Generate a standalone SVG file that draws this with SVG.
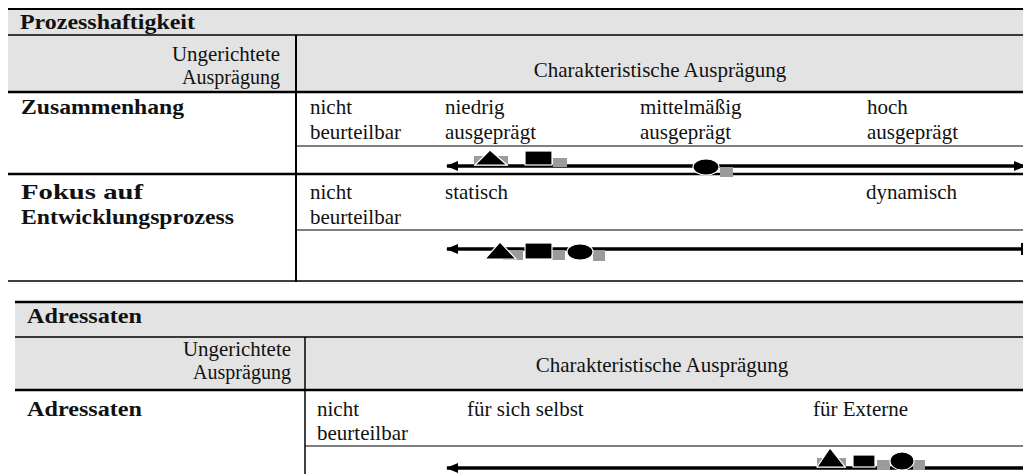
<svg xmlns="http://www.w3.org/2000/svg" width="1023" height="474" viewBox="0 0 1023 474">
<style>
text{font-family:'Liberation Serif','Tinos','DejaVu Serif',serif;font-size:21px;fill:#111}
.b{font-weight:bold}
.h{font-size:20px}
.bg{fill:#e3e3e3}
.ln{stroke:#000;fill:none}
.ax{stroke:#000;stroke-width:3.5;fill:none}
.gr{fill:#9b9b9b}
.sh{fill:#000;stroke:#fff;stroke-width:1.2}
</style>
<defs>
<marker id="ah" viewBox="0 0 12 10" refX="11" refY="5" markerWidth="12" markerHeight="10" markerUnits="userSpaceOnUse" orient="auto-start-reverse">
<path d="M0,0 L12,5 L0,10 Z" fill="#000"/>
</marker>
</defs>
<rect width="1023" height="474" fill="#fff"/>

<g id="table1">
<rect class="bg" x="8" y="8" width="1020" height="84"/>
<line class="ln" x1="8" y1="9" x2="1023" y2="9" stroke-width="2"/>
<line class="ln" x1="8" y1="35" x2="1023" y2="35" stroke-width="1.5"/>
<line class="ln" x1="8" y1="92" x2="1023" y2="92" stroke-width="2.5"/>
<line class="ln" x1="296" y1="35" x2="296" y2="282" stroke-width="2"/>
<line class="ln" x1="296" y1="146" x2="1023" y2="146" stroke-width="1.2"/>
<line class="ln" x1="8" y1="174" x2="1023" y2="174" stroke-width="2.5"/>
<line class="ln" x1="296" y1="230" x2="1023" y2="230" stroke-width="1.2"/>
<line class="ln" x1="8" y1="281" x2="1023" y2="281" stroke-width="1.5"/>
</g>

<g id="table2">
<rect class="bg" x="15" y="302" width="1013" height="88"/>
<line class="ln" x1="15" y1="302" x2="1023" y2="302" stroke-width="2.5"/>
<line class="ln" x1="15" y1="337" x2="1023" y2="337" stroke-width="1.5"/>
<line class="ln" x1="15" y1="390" x2="1023" y2="390" stroke-width="2.5"/>
<line class="ln" x1="305" y1="337" x2="305" y2="474" stroke-width="1.5"/>
<line class="ln" x1="305" y1="446" x2="1023" y2="446" stroke-width="1.2"/>
</g>

<g id="labels1">
<text class="b" x="20" y="29" textLength="175" lengthAdjust="spacingAndGlyphs">Prozesshaftigkeit</text>
<text class="h" x="280" y="61" text-anchor="end" textLength="108" lengthAdjust="spacingAndGlyphs">Ungerichtete</text>
<text class="h" x="280" y="84" text-anchor="end" textLength="98" lengthAdjust="spacingAndGlyphs">Ausprägung</text>
<text x="660" y="77" text-anchor="middle">Charakteristische Ausprägung</text>
<text class="b" x="21" y="114" textLength="163" lengthAdjust="spacingAndGlyphs">Zusammenhang</text>
<text x="310" y="114">nicht</text>
<text x="310" y="139">beurteilbar</text>
<text x="445" y="114">niedrig</text>
<text x="445" y="139">ausgeprägt</text>
<text x="640" y="114">mittelmäßig</text>
<text x="640" y="139">ausgeprägt</text>
<text x="867" y="114">hoch</text>
<text x="867" y="139">ausgeprägt</text>
<text class="b" x="21" y="199" textLength="122" lengthAdjust="spacingAndGlyphs">Fokus auf</text>
<text class="b" x="21" y="224" textLength="213" lengthAdjust="spacingAndGlyphs">Entwicklungsprozess</text>
<text x="310" y="199">nicht</text>
<text x="310" y="224">beurteilbar</text>
<text x="445" y="199">statisch</text>
<text x="866" y="199">dynamisch</text>
</g>

<g id="labels2">
<text class="b" x="27" y="323" textLength="115" lengthAdjust="spacingAndGlyphs">Adressaten</text>
<text class="h" x="291" y="356" text-anchor="end" textLength="108" lengthAdjust="spacingAndGlyphs">Ungerichtete</text>
<text class="h" x="291" y="379" text-anchor="end" textLength="98" lengthAdjust="spacingAndGlyphs">Ausprägung</text>
<text x="662" y="372" text-anchor="middle">Charakteristische Ausprägung</text>
<text class="b" x="27" y="416" textLength="115" lengthAdjust="spacingAndGlyphs">Adressaten</text>
<text x="317" y="416">nicht</text>
<text x="317" y="440">beurteilbar</text>
<text x="467" y="416">für sich selbst</text>
<text x="813" y="416">für Externe</text>
</g>

<g id="connectors">
<line class="ax" x1="447" y1="166" x2="1025" y2="166" marker-start="url(#ah)" marker-end="url(#ah)"/>
<line class="ax" x1="447" y1="249" x2="1023" y2="249" marker-start="url(#ah)"/>
<line class="ln" x1="1022" y1="243" x2="1022" y2="255" stroke-width="2"/>
<line class="ax" x1="447" y1="468" x2="1023" y2="468" marker-start="url(#ah)"/>
</g>

<g id="markers1">
<rect class="gr" x="474" y="156" width="34" height="10"/>
<polygon class="sh" points="490,150 475,165 507,165"/>
<rect class="gr" x="553" y="158" width="14" height="9"/>
<rect class="sh" x="525" y="151" width="27" height="14"/>
<rect class="gr" x="720" y="167" width="13" height="10"/>
<ellipse class="sh" cx="706" cy="167" rx="13" ry="8"/>
</g>

<g id="markers2">
<rect class="gr" x="503" y="250" width="20" height="10"/>
<polygon class="sh" points="500,242 485,259 516,259"/>
<rect class="gr" x="552" y="250" width="13" height="10"/>
<rect class="sh" x="525" y="243" width="27" height="16"/>
<rect class="gr" x="593" y="250" width="12" height="11"/>
<ellipse class="sh" cx="580" cy="252" rx="13" ry="8"/>
</g>

<g id="markers3">
<rect class="gr" x="817" y="458" width="29" height="10"/>
<polygon class="sh" points="830,448 817,467 845,467"/>
<rect class="gr" x="877" y="460" width="13" height="10"/>
<rect class="sh" x="853" y="455" width="22" height="12"/>
<rect class="gr" x="913" y="460" width="12" height="10"/>
<ellipse class="sh" cx="902" cy="461" rx="12" ry="9"/>
</g>
</svg>
